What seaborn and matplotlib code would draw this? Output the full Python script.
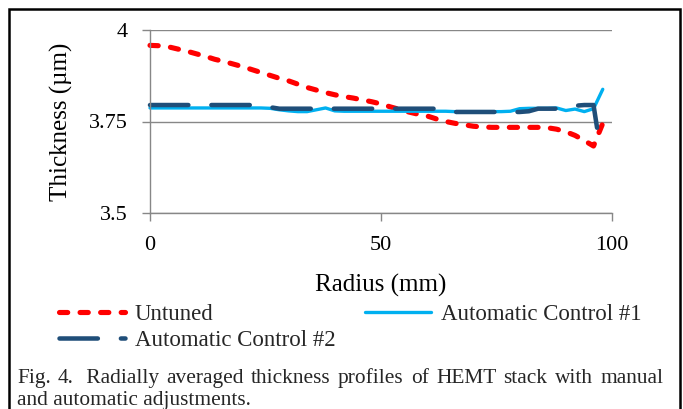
import numpy as np
import pandas as pd
import matplotlib
matplotlib.use("Agg")
import matplotlib.pyplot as plt
from matplotlib.patches import Rectangle
from matplotlib.lines import Line2D
import seaborn as sns

# ---------------- data ----------------
radius = [0, 2, 4, 6, 8, 10, 12, 14, 16, 18, 20, 22, 24, 26, 28, 30, 32, 34, 36, 38,
          40, 42, 44, 46, 48, 50, 52, 54, 56, 58, 60, 62, 64, 66, 68, 70, 72, 74, 76, 78,
          80, 82, 84, 86, 88, 90, 92, 94, 96, 98]
untuned = [3.958, 3.957, 3.954, 3.948, 3.942, 3.935, 3.928, 3.920, 3.914, 3.907,
           3.900, 3.892, 3.884, 3.876, 3.868, 3.861, 3.852, 3.843, 3.836, 3.829,
           3.823, 3.818, 3.814, 3.809, 3.804, 3.798, 3.790, 3.783, 3.776, 3.770,
           3.765, 3.757, 3.750, 3.745, 3.741, 3.737, 3.735, 3.734, 3.734, 3.734,
           3.734, 3.734, 3.734, 3.733, 3.729, 3.722, 3.712, 3.698, 3.683, 3.745]
auto1 = [3.787, 3.787, 3.787, 3.787, 3.787, 3.787, 3.787, 3.787, 3.787, 3.787,
         3.787, 3.787, 3.787, 3.786, 3.782, 3.779, 3.777, 3.777, 3.782, 3.787,
         3.779, 3.778, 3.778, 3.778, 3.778, 3.778, 3.778, 3.778, 3.778, 3.778,
         3.778, 3.778, 3.778, 3.777, 3.777, 3.777, 3.777, 3.777, 3.777, 3.778,
         3.785, 3.786, 3.786, 3.786, 3.787, 3.780, 3.784, 3.777, 3.785, 3.838]
radius2 = [0, 2, 4, 6, 8, 10, 12, 14, 16, 18, 20, 22, 24, 26, 28, 30, 32, 34, 36, 38,
           40, 42, 44, 46, 48, 50, 52, 54, 56, 58, 60, 62, 64, 66, 68, 70, 72, 74, 76, 78,
           80, 82, 84, 86, 88, 90, 92, 94, 96, 97]
auto2 = [3.795, 3.795, 3.795, 3.795, 3.795, 3.795, 3.795, 3.795, 3.795, 3.795,
         3.795, 3.795, 3.795, 3.789, 3.785, 3.785, 3.785, 3.785, 3.785, 3.785,
         3.785, 3.785, 3.785, 3.785, 3.785, 3.785, 3.785, 3.785, 3.785, 3.785,
         3.785, 3.785, 3.784, 3.776, 3.776, 3.776, 3.776, 3.776, 3.776, 3.776,
         3.776, 3.778, 3.785, 3.785, 3.785, 3.786, 3.793, 3.795, 3.795, 3.714]
series_names = ["Untuned", "Automatic Control #1", "Automatic Control #2"]
x_ticks = [0, 50, 100]
y_ticks = [3.5, 3.75, 4.0]
y_ticklabels = ["3.5", "3.75", "4"]

df = pd.concat([
    pd.DataFrame({"Radius": radius, "Thickness": untuned, "Series": series_names[0]}),
    pd.DataFrame({"Radius": radius, "Thickness": auto1, "Series": series_names[1]}),
    pd.DataFrame({"Radius": radius2, "Thickness": auto2, "Series": series_names[2]}),
], ignore_index=True)

# ---------------- style ----------------
sns.set_theme(style="white")
plt.rcParams["font.family"] = ["Liberation Serif", "DejaVu Serif"]

W, H = 683, 409
fig = plt.figure(figsize=(W / 100, H / 100), dpi=100)
ax = fig.add_axes([150 / W, 1 - 213 / H, 462 / W, 183 / H])

palette = {series_names[0]: "#FF0000", series_names[1]: "#00B0F0", series_names[2]: "#1F4E79"}
dashes = {series_names[0]: (1.6, 2.4), series_names[1]: "", series_names[2]: (8.5, 5.1)}
widths = {series_names[0]: 3.7, series_names[1]: 2.4, series_names[2]: 3.25}

sns.lineplot(data=df, x="Radius", y="Thickness", hue="Series", style="Series",
             palette=palette, dashes=dashes, hue_order=series_names,
             style_order=series_names, ax=ax, legend=False, sort=False)
for line, name in zip(ax.get_lines(), series_names):
    line.set_linewidth(widths[name])
    line.set_dash_capstyle("round")
    line.set_solid_capstyle("round")
    line.set_solid_joinstyle("round")
    line.set_dash_joinstyle("round")
    line.set_clip_on(False)

ax.set_xlim(0, 100)
ax.set_ylim(3.5, 4.0)
ax.set_xticks(x_ticks)
ax.set_yticks(y_ticks)
ax.set_yticklabels(y_ticklabels)
grid_c = "#878787"
ax.grid(axis="y", color=grid_c, lw=1.0)
ax.grid(axis="x", visible=False)
for s in ["top", "right"]:
    ax.spines[s].set_visible(False)
for s in ["left", "bottom"]:
    ax.spines[s].set_color(grid_c)
    ax.spines[s].set_linewidth(1.0)
ax.tick_params(axis="both", direction="out", length=5.8, width=1.0, color=grid_c,
               labelsize=16, labelcolor="black", bottom=True, left=True)
ax.tick_params(axis="y", pad=10.5)
ax.tick_params(axis="x", pad=10.5)
ax.set_xlabel("Radius (mm)", fontsize=18, labelpad=14, color="black")
ax.set_ylabel("Thickness (µm)", fontsize=18, labelpad=11, color="black")

# legend
handles = []
for name in series_names:
    h = Line2D([], [], color=palette[name], lw=widths[name],
               dash_capstyle="round", solid_capstyle="round")
    if dashes[name]:
        h.set_dashes(dashes[name])
    handles.append(h)
order = [0, 2, 1]
fig.legend([handles[i] for i in order], [series_names[i] for i in order],
           loc="upper left", bbox_to_anchor=(59 / W, 1 - 304 / H), ncol=2,
           frameon=False, fontsize=16.5, handlelength=2.9, handletextpad=0.4,
           columnspacing=1.3, labelspacing=0.2, borderpad=0, borderaxespad=0)

# caption (justified first line)
cap_fs = 15.4
line1 = ["Fig.", "4.", " Radially", "averaged", "thickness", "profiles", "of", "HEMT",
         "stack", "with", "manual"]
x0, x1 = 17, 663
fig.canvas.draw()
renderer = fig.canvas.get_renderer()
texts = []
widths_px = []
for w in line1:
    t = fig.text(0, 1 - 383 / H, w, fontsize=cap_fs, va="baseline", ha="left")
    texts.append(t)
    widths_px.append(t.get_window_extent(renderer).width)
gap = (x1 - x0 - sum(widths_px)) / (len(line1) - 1)
x = x0
for t, wpx in zip(texts, widths_px):
    t.set_x(x / W)
    x += wpx + gap
fig.text(x0 / W, 1 - 405 / H, "and automatic adjustments.", fontsize=cap_fs,
         va="baseline", ha="left")

# frame
fig.patches.append(Rectangle((9 / W, -0.05), (680 - 9) / W, 0.05 + 1 - 9 / H,
                             transform=fig.transFigure, fill=False, ec="black",
                             lw=1.8, zorder=10))

fig.savefig("out.png", dpi=100)
